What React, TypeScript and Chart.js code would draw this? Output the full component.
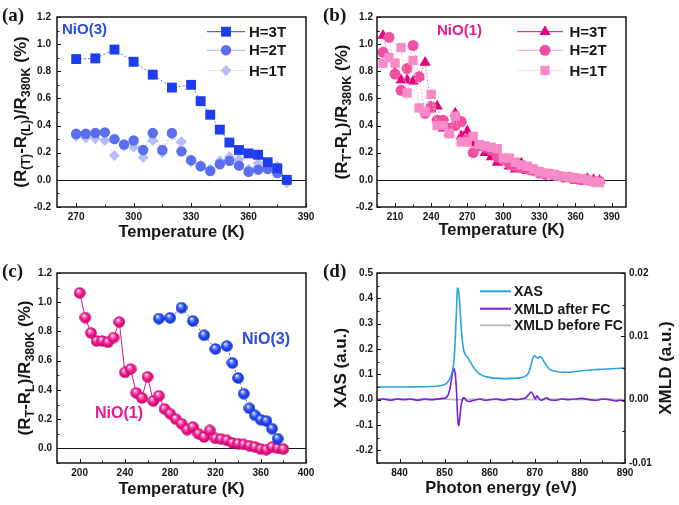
import React, { useEffect, useRef } from 'react';
import { Chart, registerables } from 'chart.js';

Chart.register(...registerables);

const FONT = '"Liberation Sans", Arial, Helvetica, sans-serif';
const SERIF = '"Liberation Serif", "Times New Roman", serif';
const INK = '#161616';

// ---------------- Panel (a): NiO(3) at three fields ----------------
const tempA3T = [270, 280, 290, 300, 310, 320, 330, 335, 340, 345, 350, 355, 360, 365, 370, 375, 380];
const nio3H3T = [0.89, 0.895, 0.96, 0.87, 0.775, 0.68, 0.7, 0.58, 0.48, 0.37, 0.275, 0.22, 0.195, 0.185, 0.13, 0.085, 0.0];
const tempA = [270, 275, 280, 285, 290, 295, 300, 305, 310, 315, 320, 325, 330, 335, 340, 345, 350, 355, 360, 365, 370, 375, 380];
const nio3H2T = [0.34, 0.34, 0.345, 0.35, 0.3, 0.26, 0.29, 0.22, 0.345, 0.22, 0.345, 0.21, 0.145, 0.1, 0.065, 0.115, 0.14, 0.105, 0.06, 0.075, 0.08, 0.05, 0.0];
const nio3H1T = [0.32, 0.31, 0.305, 0.29, 0.18, 0.25, 0.24, 0.165, 0.29, 0.2, 0.33, 0.28, 0.13, 0.11, 0.08, 0.14, 0.17, 0.15, 0.08, 0.12, 0.1, 0.1, -0.02];
const xTicksA = [270, 300, 330, 360, 390];
const yTicksAB = [-0.2, 0.0, 0.2, 0.4, 0.6, 0.8, 1.0, 1.2];

// ---------------- Panel (b): NiO(1) at three fields ----------------
const tempB = [200, 205, 210, 215, 220, 225, 230, 235, 240, 245, 250, 255, 260, 265, 270, 275, 280, 285, 290, 295, 300, 305, 310, 315, 320, 325, 330, 335, 340, 345, 350, 355, 360, 365, 370, 375, 380];
const nio1H3T = [1.064, 0.895, 0.79, 0.735, 0.735, 0.726, 0.758, 0.865, 0.52, 0.543, 0.38, 0.345, 0.49, 0.324, 0.36, 0.27, 0.237, 0.2, 0.169, 0.128, 0.146, 0.1, 0.078, 0.123, 0.068, 0.064, 0.055, 0.037, 0.032, 0.027, 0.018, 0.009, -0.005, -0.009, 0.009, 0.0, -0.005];
const nio1H2T = [0.94, 1.05, 0.78, 0.66, 0.82, 0.99, 0.76, 0.49, 0.54, 0.44, 0.44, 0.38, 0.4, 0.43, 0.3, 0.2, 0.25, 0.24, 0.22, 0.17, 0.15, 0.12, 0.1, 0.09, 0.08, 0.07, 0.05, 0.04, 0.04, 0.03, 0.02, 0.02, 0.01, 0.0, 0.0, -0.01, -0.01];
const nio1H1T = [0.86, 0.9, 0.86, 0.975, 0.64, 0.88, 0.53, 0.5, 0.63, 0.4, 0.4, 0.34, 0.47, 0.28, 0.28, 0.32, 0.26, 0.25, 0.24, 0.23, 0.16, 0.16, 0.13, 0.11, 0.1, 0.08, 0.06, 0.05, 0.04, 0.03, 0.025, 0.02, 0.015, 0.01, 0.0, -0.015, -0.02];
const xTicksB = [210, 240, 270, 300, 330, 360, 390];

// ---------------- Panel (c): NiO(1) vs NiO(3) at 3T ----------------
const tempC1 = [200, 205, 210, 215, 220, 225, 230, 235, 240, 245, 250, 255, 260, 265, 270, 275, 280, 285, 290, 295, 300, 305, 310, 315, 320, 325, 330, 335, 340, 345, 350, 355, 360, 365, 370, 375, 380];
const nio1C = [1.064, 0.895, 0.79, 0.735, 0.735, 0.726, 0.758, 0.865, 0.52, 0.543, 0.38, 0.345, 0.49, 0.324, 0.36, 0.27, 0.237, 0.2, 0.169, 0.128, 0.146, 0.1, 0.078, 0.123, 0.068, 0.064, 0.055, 0.037, 0.032, 0.027, 0.018, 0.009, -0.005, -0.009, 0.009, 0.0, -0.005];
const tempC3 = [270, 280, 290, 300, 310, 320, 330, 335, 340, 345, 350, 355, 360, 365, 370, 375];
const nio3C = [0.888, 0.893, 0.963, 0.872, 0.774, 0.68, 0.7, 0.584, 0.482, 0.374, 0.274, 0.226, 0.196, 0.187, 0.135, 0.066];
const xTicksC = [200, 240, 280, 320, 360, 400];
const yTicksC = [0.0, 0.2, 0.4, 0.6, 0.8, 1.0, 1.2];

// ---------------- Panel (d): XAS / XMLD spectra ----------------
const xasE = [835, 838, 841, 844, 847, 849, 850, 850.5, 851, 851.5,
  852, 852.3, 852.6, 852.85, 853.1, 853.4, 853.7, 854, 854.3, 854.7,
  855.2, 855.8, 856.5, 857.3, 858.2, 859.3, 860.5, 862, 864, 866,
  867, 867.8, 868.5, 869, 869.5, 869.9, 870.3, 870.7, 871.1, 871.5,
  872, 872.6, 873.3, 874.2, 875.5, 877, 879, 881, 883, 885,
  887, 889, 890];
const xasV = [0.05, 0.05, 0.05, 0.051, 0.052, 0.055, 0.06, 0.066, 0.078, 0.098,
  0.14, 0.22, 0.34, 0.44, 0.43, 0.36, 0.28, 0.22, 0.19, 0.175,
  0.165, 0.145, 0.125, 0.108, 0.097, 0.09, 0.086, 0.084, 0.083, 0.085,
  0.087, 0.092, 0.102, 0.125, 0.16, 0.174, 0.168, 0.163, 0.17, 0.166,
  0.15, 0.135, 0.12, 0.113, 0.109, 0.108, 0.111, 0.115, 0.118, 0.12,
  0.122, 0.124, 0.125];
const xmldAfterE = [835, 836.5, 838, 839.5, 841, 842.5, 844, 845.5, 847, 848.5,
  849.5, 850.3, 850.8, 851.2, 851.6, 852.0, 852.3, 852.6, 852.85, 853.1,
  853.35, 853.6, 853.9, 854.2, 854.5, 854.9, 855.4, 856, 857, 858,
  859, 860, 861.5, 863, 864.5, 866, 867, 868, 868.6, 869.2,
  869.7, 870.1, 870.5, 870.9, 871.4, 872, 872.6, 873.3, 874.5, 876,
  877.5, 879, 880.5, 882, 883.5, 885, 886.5, 888, 889, 890];
const xmldAfterV = [0.0, 0.0001, -0.0001, 0.0001, 0.0, 0.0001, -0.0001, 0.0001, 0.0, 0.0001,
  0.0002, 0.0003, 0.0008, 0.0018, 0.0036, 0.0049, 0.0043, 0.0018, -0.0022, -0.0041,
  -0.003, -0.0012, -0.0001, 0.0003, 0.0002, -0.0002, -0.0003, -0.0002, 0.0, 0.0001,
  -0.0001, 0.0, 0.0001, -0.0001, 0.0001, 0.0, 0.0001, 0.0003, 0.0008, 0.0012,
  0.0007, 0.0001, 0.0006, 0.0002, -0.0001, 0.0001, 0.0003, 0.0, -0.0001, 0.0001,
  0.0, 0.0001, 0.0002, 0.0, -0.0001, 0.0001, 0.0, -0.0002, -0.0001, -0.0003];
const xmldBeforeE = [835, 840, 845, 850, 852, 854, 856, 860, 865, 870, 875, 880, 885, 890];
const xmldBeforeV = [0.0001, 0.0001, 0.0, 0.0001, 0.0, 0.0, 0.0001, 0.0, 0.0001, 0.0, 0.0001, 0.0, 0.0001, 0.0];
const xTicksD = [840, 850, 860, 870, 880, 890];
const yTicksDL = [-0.2, -0.1, 0.0, 0.1, 0.2, 0.3, 0.4, 0.5];
const yTicksDR = [-0.01, 0.0, 0.01, 0.02];

// ---------------- helpers ----------------
type Plot = { l: number; t: number; r: number; b: number };
type Part = [string, boolean];
type LegendItem = { label: string; color: string; lineColor: string; style: string; r: number; lineWidth: number };
type Deco = {
  xTicks: number[]; xMinor: number;
  yTicks: number[]; yMinor: number;
  y2Ticks?: number[]; y2Minor?: number;
  zeroLine: boolean;
  yTitle: { parts: Part[]; x: number };
  y2Title?: { parts: Part[]; x: number };
  legend?: { x1: number; x2: number; mx: number; tx: number; rows: number[]; size: number; items: LegendItem[] };
  notes?: { text: string; x: number; y: number; color: string; size: number }[];
};

const pts = (xs: number[], ys: number[]) => xs.map((x, i) => ({ x, y: ys[i] }));

function sphere(light: string, base: string, dark: string, d: number) {
  const c = document.createElement('canvas');
  c.width = d; c.height = d;
  const g = c.getContext('2d')!;
  const r = d / 2;
  const grad = g.createRadialGradient(r * 0.75, r * 0.6, r * 0.05, r, r, r);
  grad.addColorStop(0, '#ffffff');
  grad.addColorStop(0.22, light);
  grad.addColorStop(0.55, base);
  grad.addColorStop(1, dark);
  g.fillStyle = grad;
  g.beginPath(); g.arc(r, r, r - 0.2, 0, Math.PI * 2); g.fill();
  return c;
}

function marker(ctx: CanvasRenderingContext2D, style: string, x: number, y: number, r: number, color: string) {
  if (style === 'line') return;
  ctx.fillStyle = color;
  ctx.beginPath();
  if (style === 'rect') { const s = r * Math.SQRT1_2; ctx.rect(x - s, y - s, 2 * s, 2 * s); }
  else if (style === 'rectRot') { ctx.moveTo(x - r, y); ctx.lineTo(x, y - r); ctx.lineTo(x + r, y); ctx.lineTo(x, y + r); ctx.closePath(); }
  else if (style === 'triangle') { ctx.moveTo(x, y - r); ctx.lineTo(x + r * 0.866, y + r * 0.5); ctx.lineTo(x - r * 0.866, y + r * 0.5); ctx.closePath(); }
  else { ctx.arc(x, y, r, 0, Math.PI * 2); }
  ctx.fill();
}

function drawRich(ctx: CanvasRenderingContext2D, parts: Part[], cx: number, cy: number, main: number, sub: number) {
  ctx.save();
  ctx.translate(cx, cy);
  ctx.rotate(-Math.PI / 2);
  ctx.textBaseline = 'middle';
  ctx.textAlign = 'left';
  ctx.fillStyle = INK;
  const fm = `bold ${main}px ${FONT}`;
  const fs = `bold ${sub}px ${FONT}`;
  let total = 0;
  for (const [t, s] of parts) { ctx.font = s ? fs : fm; total += ctx.measureText(t).width; }
  let x = -total / 2;
  for (const [t, s] of parts) {
    ctx.font = s ? fs : fm;
    ctx.fillText(t, x, s ? main * 0.3 : 0);
    x += ctx.measureText(t).width;
  }
  ctx.restore();
}

function decoPlugin(d: Deco) {
  return {
    id: 'deco',
    beforeDatasetsDraw(chart: any) {
      if (!d.zeroLine) return;
      const { ctx, chartArea: ca } = chart;
      const y = Math.round(chart.scales.y.getPixelForValue(0)) + 0.5;
      ctx.save();
      ctx.strokeStyle = INK; ctx.lineWidth = 1;
      ctx.beginPath(); ctx.moveTo(ca.left, y); ctx.lineTo(ca.right, y); ctx.stroke();
      ctx.restore();
    },
    afterDraw(chart: any) {
      const { ctx, chartArea: ca } = chart;
      const sx = chart.scales.x, sy = chart.scales.y;
      ctx.save();
      ctx.strokeStyle = INK;
      ctx.lineWidth = 1;
      const line = (x1: number, y1: number, x2: number, y2: number) => { ctx.beginPath(); ctx.moveTo(x1, y1); ctx.lineTo(x2, y2); ctx.stroke(); };
      const isMajor = (v: number, arr: number[], step: number) => arr.some((m) => Math.abs(m - v) < step * 0.01);
      for (let v = Math.ceil(sx.min / d.xMinor) * d.xMinor; v <= sx.max + 1e-9; v += d.xMinor) {
        const px = Math.round(sx.getPixelForValue(v)) + 0.5;
        line(px, ca.bottom, px, ca.bottom - (isMajor(v, d.xTicks, d.xMinor) ? 4 : 2.5));
      }
      for (let v = Math.ceil(sy.min / d.yMinor - 1e-9) * d.yMinor; v <= sy.max + 1e-9; v += d.yMinor) {
        const py = Math.round(sy.getPixelForValue(v)) + 0.5;
        line(ca.left, py, ca.left + (isMajor(v, d.yTicks, d.yMinor) ? 4 : 2.5), py);
      }
      if (d.y2Ticks && d.y2Minor) {
        const s2 = chart.scales.y2;
        for (let v = Math.ceil(s2.min / d.y2Minor - 1e-9) * d.y2Minor; v <= s2.max + 1e-9; v += d.y2Minor) {
          const py = Math.round(s2.getPixelForValue(v)) + 0.5;
          line(ca.right, py, ca.right - (isMajor(v, d.y2Ticks, d.y2Minor) ? 4 : 2.5), py);
        }
      }
      ctx.lineWidth = 1.5;
      ctx.strokeRect(ca.left, ca.top, ca.right - ca.left, ca.bottom - ca.top);
      const cy = (ca.top + ca.bottom) / 2;
      drawRich(ctx, d.yTitle.parts, d.yTitle.x, cy, 17, 12.5);
      if (d.y2Title) drawRich(ctx, d.y2Title.parts, d.y2Title.x, cy, 17, 12.5);
      if (d.legend) {
        const L = d.legend;
        ctx.font = `bold ${L.size}px ${FONT}`;
        ctx.textBaseline = 'middle';
        ctx.textAlign = 'left';
        L.items.forEach((it, i) => {
          const y = L.rows[i];
          ctx.strokeStyle = it.lineColor;
          ctx.lineWidth = it.lineWidth;
          line(L.x1, y, L.x2, y);
          marker(ctx, it.style, L.mx, y, it.r, it.color);
          ctx.fillStyle = INK;
          ctx.fillText(it.label, L.tx, y + 1);
        });
      }
      (d.notes || []).forEach((n) => {
        ctx.font = `bold ${n.size}px ${FONT}`;
        ctx.textBaseline = 'middle';
        ctx.textAlign = 'left';
        ctx.fillStyle = n.color;
        ctx.fillText(n.text, n.x, n.y);
      });
      ctx.restore();
    },
  };
}

const tickFont = { family: FONT, size: 10, weight: 'bold' as const };

function xScale(min: number, max: number, ticks: number[], title: string, plot: Plot, h: number, titleCY: number) {
  return {
    type: 'linear', position: 'bottom', min, max,
    afterBuildTicks: (s: any) => { s.ticks = ticks.map((v) => ({ value: v })); },
    afterFit: (s: any) => { s.height = h - plot.b; },
    grid: { display: false, drawTicks: false },
    border: { display: false },
    ticks: { font: tickFont, color: INK, padding: 4, autoSkip: false, maxRotation: 0, callback: (v: any) => String(v) },
    title: { display: true, text: title, color: INK, font: { family: FONT, size: 16.5, weight: 'bold' }, padding: { top: 0, bottom: h - titleCY - 9.9 } },
  };
}

function yScale(pos: string, min: number, max: number, ticks: number[], plot: Plot, w: number, pad: number, digits: number) {
  return {
    type: 'linear', position: pos, min, max,
    afterBuildTicks: (s: any) => { s.ticks = ticks.map((v) => ({ value: v })); },
    afterFit: (s: any) => { s.width = pos === 'left' ? plot.l : w - plot.r; },
    grid: { display: false, drawTicks: false },
    border: { display: false },
    ticks: { font: tickFont, color: INK, padding: pad, autoSkip: false, callback: (v: any) => Number(v).toFixed(digits) },
  };
}

function baseOptions(plot: Plot, w: number, scales: any, rightAxis: boolean) {
  return {
    responsive: false,
    animation: false,
    maintainAspectRatio: false,
    layout: { padding: { left: 0, top: plot.t, right: rightAxis ? 0 : w - plot.r, bottom: 0 } },
    plugins: { legend: { display: false }, tooltip: { enabled: false } },
    scales,
  };
}

const RT: Part[] = [['(R', false], ['T', true], ['-R', false], ['L', true], [')/R', false], ['380K', true], [' (%)', false]];
const RTpar: Part[] = [['(R', false], ['(T)', true], ['-R', false], ['(L)', true], [')/R', false], ['380K', true], [' (%)', false]];

const BLUE3 = '#1f3df0', BLUE2 = '#5a6ef0', BLUE1 = '#b3befa';
const MAG3 = '#e5007e', MAG2 = '#f050a2', MAG1 = '#f78bc8';

function buildA() {
  const w = 330, h = 250;
  const plot = { l: 57, t: 17, r: 306, b: 207 };
  const deco: Deco = {
    xTicks: xTicksA, xMinor: 15, yTicks: yTicksAB, yMinor: 0.1, zeroLine: true,
    yTitle: { parts: RTpar, x: 21.5 },
    legend: {
      x1: 207, x2: 245, mx: 226, tx: 249, rows: [31.7, 50.3, 70.5], size: 15,
      items: [
        { label: 'H=3T', color: BLUE3, lineColor: BLUE3, style: 'rect', r: 7, lineWidth: 1 },
        { label: 'H=2T', color: BLUE2, lineColor: '#aab4f5', style: 'circle', r: 5.2, lineWidth: 1 },
        { label: 'H=1T', color: BLUE1, lineColor: '#e3e7fc', style: 'rectRot', r: 5.5, lineWidth: 1 },
      ],
    },
    notes: [{ text: 'NiO(3)', x: 62, y: 29.5, color: '#2b4de6', size: 15 }],
  };
  return {
    type: 'line',
    data: {
      datasets: [
        { label: 'H=3T', data: pts(tempA3T, nio3H3T), borderColor: '#5d72ec', borderWidth: 1, borderDash: [2, 2], pointStyle: 'rect', pointRadius: 7, pointBackgroundColor: BLUE3, pointBorderWidth: 0, order: 1 },
        { label: 'H=2T', data: pts(tempA, nio3H2T), borderColor: '#a6b1f5', borderWidth: 1, borderDash: [2, 2], pointStyle: 'circle', pointRadius: 5.2, pointBackgroundColor: BLUE2, pointBorderWidth: 0, order: 2 },
        { label: 'H=1T', data: pts(tempA, nio3H1T), borderColor: '#dfe4fc', borderWidth: 1, borderDash: [2, 2], pointStyle: 'rectRot', pointRadius: 5.5, pointBackgroundColor: BLUE1, pointBorderWidth: 0, order: 3 },
      ],
    },
    options: baseOptions(plot, w, {
      x: xScale(260, 390, xTicksA, 'Temperature (K)', plot, h, 232),
      y: yScale('left', -0.2, 1.2, yTicksAB, plot, w, 6, 1),
    }, false),
    plugins: [decoPlugin(deco)],
  } as any;
}

function buildB() {
  const w = 349, h = 250;
  const plot = { l: 47, t: 17, r: 296, b: 207 };
  const deco: Deco = {
    xTicks: xTicksB, xMinor: 15, yTicks: yTicksAB, yMinor: 0.1, zeroLine: true,
    yTitle: { parts: RT, x: 12 },
    legend: {
      x1: 187, x2: 233, mx: 215, tx: 239.5, rows: [31.7, 50.3, 70.5], size: 15,
      items: [
        { label: 'H=3T', color: MAG3, lineColor: MAG3, style: 'triangle', r: 6.5, lineWidth: 1 },
        { label: 'H=2T', color: MAG2, lineColor: '#f6a9cf', style: 'circle', r: 5.5, lineWidth: 1 },
        { label: 'H=1T', color: MAG1, lineColor: '#fbe0ee', style: 'rect', r: 6.6, lineWidth: 1 },
      ],
    },
    notes: [{ text: 'NiO(1)', x: 107, y: 31, color: '#e8198b', size: 15 }],
  };
  return {
    type: 'line',
    data: {
      datasets: [
        { label: 'H=1T', data: pts(tempB, nio1H1T), borderColor: '#f9c4df', borderWidth: 1, borderDash: [1.5, 2], pointStyle: 'rect', pointRadius: 6.6, pointBackgroundColor: MAG1, pointBorderWidth: 0, order: 1 },
        { label: 'H=2T', data: pts(tempB, nio1H2T), borderColor: '#f5a3cb', borderWidth: 1, borderDash: [1.5, 2], pointStyle: 'circle', pointRadius: 5.5, pointBackgroundColor: MAG2, pointBorderWidth: 0, order: 2 },
        { label: 'H=3T', data: pts(tempB, nio1H3T), borderColor: '#ee6aaa', borderWidth: 1, borderDash: [1.5, 2], pointStyle: 'triangle', pointRadius: 6.5, pointBackgroundColor: MAG3, pointBorderWidth: 0, order: 3 },
      ],
    },
    options: baseOptions(plot, w, {
      x: xScale(195, 402, xTicksB, 'Temperature (K)', plot, h, 230),
      y: yScale('left', -0.2, 1.2, yTicksAB, plot, w, 4, 1),
    }, false),
    plugins: [decoPlugin(deco)],
  } as any;
}

function buildC() {
  const w = 330, h = 255;
  const plot = { l: 57, t: 23, r: 306, b: 213 };
  const deco: Deco = {
    xTicks: xTicksC, xMinor: 20, yTicks: yTicksC, yMinor: 0.1, zeroLine: true,
    yTitle: { parts: RT, x: 25.5 },
    notes: [
      { text: 'NiO(3)', x: 242, y: 89.5, color: '#2b4de6', size: 16 },
      { text: 'NiO(1)', x: 95, y: 164, color: '#e8198b', size: 16 },
    ],
  };
  const ballM = sphere('#ff7cc0', '#ee1a8a', '#c0046a', 12);
  const ballB = sphere('#7d94ff', '#2448f2', '#1230c8', 12);
  return {
    type: 'line',
    data: {
      datasets: [
        { label: 'NiO(3)', data: pts(tempC3, nio3C), borderColor: '#3050e0', borderWidth: 1, borderDash: [2, 2.5], pointStyle: ballB, pointRadius: 6, order: 1 },
        { label: 'NiO(1)', data: pts(tempC1, nio1C), borderColor: '#e3147f', borderWidth: 1, pointStyle: ballM, pointRadius: 6, order: 2 },
      ],
    },
    options: baseOptions(plot, w, {
      x: xScale(180, 400, xTicksC, 'Temperature (K)', plot, h, 239),
      y: yScale('left', -0.1, 1.2, yTicksC, plot, w, 5, 1),
    }, false),
    plugins: [decoPlugin(deco)],
  } as any;
}

function buildD() {
  const w = 349, h = 255;
  const plot = { l: 47, t: 23, r: 295, b: 213 };
  const deco: Deco = {
    xTicks: xTicksD, xMinor: 5, yTicks: yTicksDL, yMinor: 0.05, y2Ticks: yTicksDR, y2Minor: 0.005, zeroLine: false,
    yTitle: { parts: [['XAS (a.u.)', false]], x: 11 },
    y2Title: { parts: [['XMLD (a.u.)', false]], x: 336 },
    legend: {
      x1: 150, x2: 181, mx: 0, tx: 184, rows: [41.3, 58.7, 75.3], size: 14,
      items: [
        { label: 'XAS', color: '#2ba3e3', lineColor: '#2ba3e3', style: 'line', r: 0, lineWidth: 2 },
        { label: 'XMLD after FC', color: '#7a1fd8', lineColor: '#7a1fd8', style: 'line', r: 0, lineWidth: 2 },
        { label: 'XMLD before FC', color: '#bcbcbc', lineColor: '#bcbcbc', style: 'line', r: 0, lineWidth: 2 },
      ],
    },
  };
  return {
    type: 'line',
    data: {
      datasets: [
        { label: 'XAS', data: pts(xasE, xasV), yAxisID: 'y', borderColor: '#2ba3e3', borderWidth: 1.6, pointRadius: 0, tension: 0.3, order: 1 },
        { label: 'XMLD after FC', data: pts(xmldAfterE, xmldAfterV), yAxisID: 'y2', borderColor: '#7a1fd8', borderWidth: 1.6, pointRadius: 0, tension: 0.25, order: 2 },
        { label: 'XMLD before FC', data: pts(xmldBeforeE, xmldBeforeV), yAxisID: 'y2', borderColor: '#bcbcbc', borderWidth: 1.6, pointRadius: 0, order: 3 },
      ],
    },
    options: baseOptions(plot, w, {
      x: xScale(835, 890, xTicksD, 'Photon energy (eV)', plot, h, 238),
      y: yScale('left', -0.25, 0.5, yTicksDL, plot, w, 4, 1),
      y2: yScale('right', -0.01, 0.02, yTicksDR, plot, w, 4, 2),
    }, true),
    plugins: [decoPlugin(deco)],
  } as any;
}

function PanelChart({ left, top, w, h, build }: { left: number; top: number; w: number; h: number; build: () => any }) {
  const ref = useRef<HTMLCanvasElement>(null);
  useEffect(() => {
    const chart = new Chart(ref.current!, build());
    return () => chart.destroy();
  }, []);
  return <canvas ref={ref} width={w} height={h} style={{ position: 'absolute', left, top, width: w, height: h }} />;
}

const labelStyle = (left: number, top: number): React.CSSProperties => ({
  position: 'absolute', left, top, fontFamily: SERIF, fontWeight: 'bold', fontSize: 19, lineHeight: '19px', color: INK,
});

export default function App() {
  return (
    <div style={{ position: 'absolute', left: 0, top: 0, width: 679, height: 505, background: '#fff', overflow: 'hidden' }}>
      <PanelChart left={0} top={0} w={330} h={250} build={buildA} />
      <PanelChart left={330} top={0} w={349} h={250} build={buildB} />
      <PanelChart left={0} top={250} w={330} h={255} build={buildC} />
      <PanelChart left={330} top={250} w={349} h={255} build={buildD} />
      <div style={labelStyle(2, 5)}>(a)</div>
      <div style={labelStyle(323, 5)}>(b)</div>
      <div style={labelStyle(2, 261)}>(c)</div>
      <div style={labelStyle(323, 261)}>(d)</div>
    </div>
  );
}
